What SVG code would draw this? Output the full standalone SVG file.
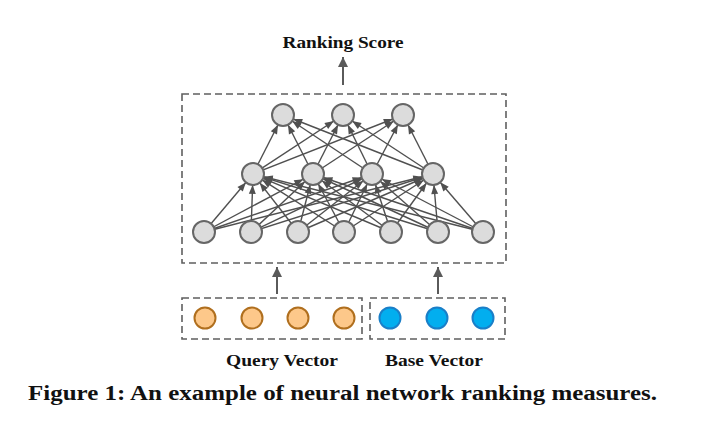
<svg xmlns="http://www.w3.org/2000/svg" width="714" height="429" viewBox="0 0 714 429">
<style>
.box{fill:none;stroke:#5f5f5f;stroke-width:1.6;stroke-dasharray:7,4}
.edge{stroke:#505050;stroke-width:1.4;fill:none}
.n{fill:#dcdcdc;stroke:#666;stroke-width:2}
.q{fill:#fdc88a;stroke:#b06f1e;stroke-width:2}
.b{fill:#02aeef;stroke:#1a7fc8;stroke-width:2}
.lbl{font-family:"Liberation Serif",serif;font-weight:bold;fill:#111}
.big{stroke:#5a5a5a;stroke-width:2;fill:none}
</style>
<defs>
<marker id="ah" markerUnits="userSpaceOnUse" markerWidth="9" markerHeight="7" refX="20" refY="3.5" orient="auto" overflow="visible">
<path d="M0,0 L9,3.5 L0,7 z" fill="#505050"/>
</marker>
<marker id="ahb" markerUnits="userSpaceOnUse" markerWidth="10" markerHeight="10" refX="10" refY="5" orient="auto" overflow="visible">
<path d="M0,0 L10,5 L0,10 z" fill="#5a5a5a"/>
</marker>
</defs>
<rect width="714" height="429" fill="#fff"/>
<g id="boxes">
<rect class="box" x="182" y="94" width="324" height="169"/>
<rect class="box" x="182" y="298" width="180" height="41"/>
<rect class="box" x="370" y="298" width="135" height="41"/>
</g>
<g id="connectors">
<g class="edge" marker-end="url(#ah)">
<line x1="204" y1="232" x2="253" y2="174"/><line x1="204" y1="232" x2="313" y2="174"/><line x1="204" y1="232" x2="372" y2="174"/><line x1="204" y1="232" x2="433" y2="174"/>
<line x1="251" y1="232" x2="253" y2="174"/><line x1="251" y1="232" x2="313" y2="174"/><line x1="251" y1="232" x2="372" y2="174"/><line x1="251" y1="232" x2="433" y2="174"/>
<line x1="298" y1="232" x2="253" y2="174"/><line x1="298" y1="232" x2="313" y2="174"/><line x1="298" y1="232" x2="372" y2="174"/><line x1="298" y1="232" x2="433" y2="174"/>
<line x1="344" y1="232" x2="253" y2="174"/><line x1="344" y1="232" x2="313" y2="174"/><line x1="344" y1="232" x2="372" y2="174"/><line x1="344" y1="232" x2="433" y2="174"/>
<line x1="391" y1="232" x2="253" y2="174"/><line x1="391" y1="232" x2="313" y2="174"/><line x1="391" y1="232" x2="372" y2="174"/><line x1="391" y1="232" x2="433" y2="174"/>
<line x1="438" y1="232" x2="253" y2="174"/><line x1="438" y1="232" x2="313" y2="174"/><line x1="438" y1="232" x2="372" y2="174"/><line x1="438" y1="232" x2="433" y2="174"/>
<line x1="483" y1="232" x2="253" y2="174"/><line x1="483" y1="232" x2="313" y2="174"/><line x1="483" y1="232" x2="372" y2="174"/><line x1="483" y1="232" x2="433" y2="174"/>
<line x1="253" y1="174" x2="283" y2="115"/><line x1="253" y1="174" x2="343" y2="115"/><line x1="253" y1="174" x2="403" y2="115"/>
<line x1="313" y1="174" x2="283" y2="115"/><line x1="313" y1="174" x2="343" y2="115"/><line x1="313" y1="174" x2="403" y2="115"/>
<line x1="372" y1="174" x2="283" y2="115"/><line x1="372" y1="174" x2="343" y2="115"/><line x1="372" y1="174" x2="403" y2="115"/>
<line x1="433" y1="174" x2="283" y2="115"/><line x1="433" y1="174" x2="343" y2="115"/><line x1="433" y1="174" x2="403" y2="115"/>
</g>
<g class="big" marker-end="url(#ahb)">
<line x1="343" y1="85" x2="343" y2="57"/>
<line x1="277" y1="294" x2="277" y2="267"/>
<line x1="438" y1="294" x2="438" y2="267"/>
</g>
</g>
<g id="output-layer">
<circle class="n" cx="283" cy="115" r="11"/><circle class="n" cx="343" cy="115" r="11"/><circle class="n" cx="403" cy="115" r="11"/>
</g>
<g id="hidden-layer">
<circle class="n" cx="253" cy="174" r="11"/><circle class="n" cx="313" cy="174" r="11"/><circle class="n" cx="372" cy="174" r="11"/><circle class="n" cx="433" cy="174" r="11"/>
</g>
<g id="input-layer">
<circle class="n" cx="204" cy="232" r="11"/><circle class="n" cx="251" cy="232" r="11"/><circle class="n" cx="298" cy="232" r="11"/><circle class="n" cx="344" cy="232" r="11"/><circle class="n" cx="391" cy="232" r="11"/><circle class="n" cx="438" cy="232" r="11"/><circle class="n" cx="483" cy="232" r="11"/>
</g>
<g id="query-vector">
<circle class="q" cx="205" cy="318" r="10.5"/><circle class="q" cx="252" cy="318" r="10.5"/><circle class="q" cx="298" cy="318" r="10.5"/><circle class="q" cx="344" cy="318" r="10.5"/>
<text class="lbl" x="282" y="366" font-size="16" text-anchor="middle" textLength="112" lengthAdjust="spacingAndGlyphs">Query Vector</text>
</g>
<g id="base-vector">
<circle class="b" cx="390" cy="318" r="10.5"/><circle class="b" cx="437" cy="318" r="10.5"/><circle class="b" cx="483" cy="318" r="10.5"/>
<text class="lbl" x="434" y="366" font-size="16" text-anchor="middle" textLength="98" lengthAdjust="spacingAndGlyphs">Base Vector</text>
</g>
<g id="ranking-score">
<text class="lbl" x="343" y="48" font-size="16" text-anchor="middle" textLength="121" lengthAdjust="spacingAndGlyphs">Ranking Score</text>
</g>
<text class="lbl" x="28" y="400" font-size="20" textLength="629" lengthAdjust="spacingAndGlyphs">Figure 1: An example of neural network ranking measures.</text>
</svg>
